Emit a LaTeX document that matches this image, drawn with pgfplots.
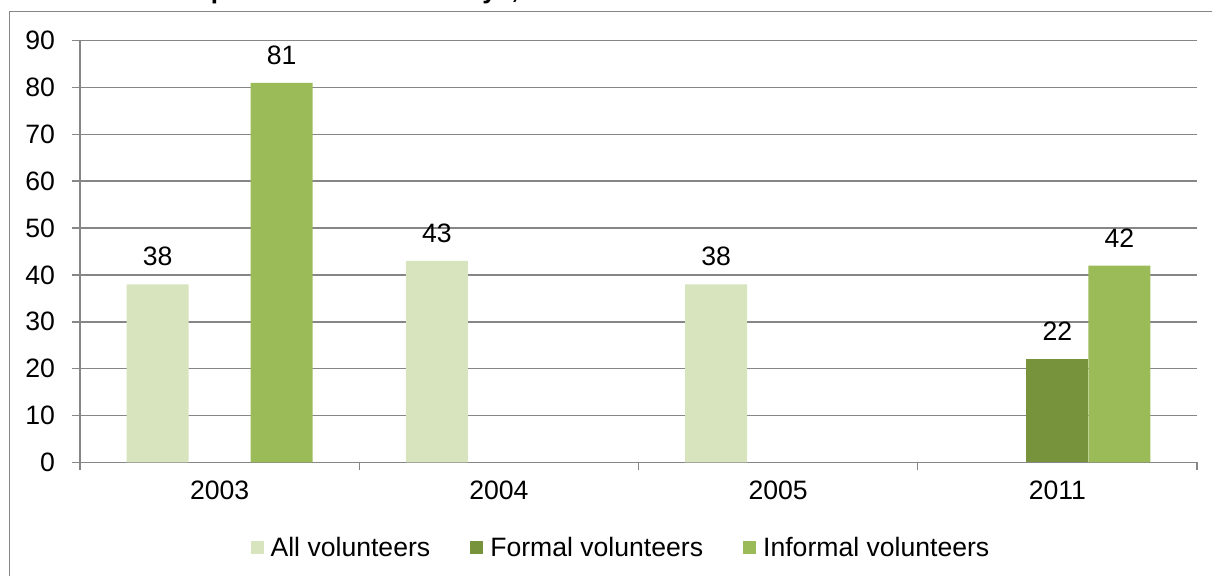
\documentclass[border=0pt]{standalone}
\usepackage{fontspec}
\setmainfont{Liberation Sans}
\usepackage{pgfplots}
\pgfplotsset{compat=1.18}

\definecolor{allvol}{HTML}{D7E4BD}
\definecolor{formvol}{HTML}{77933C}
\definecolor{infvol}{HTML}{9BBB59}
\definecolor{axisgray}{HTML}{868686}

\pgfplotsset{
  ybar legend/.style={
    legend image code/.code={\fill[##1] (0pt,-3.25pt) rectangle (6.5pt,3.25pt);}
  }
}

\begin{document}
\begin{tikzpicture}
  \begin{axis}[
      at={(40pt,56.85pt)}, anchor=south west,
      scale only axis,
      width=558.5pt,
      height=210.8pt,
      ybar=0pt,
      bar width=31pt,
      xmin=-0.5, xmax=3.5,
      ymin=0, ymax=90,
      xtick={0,1,2,3},
      xticklabels={2003,2004,2005,2011},
      minor xtick={-0.5,0.5,1.5,2.5,3.5},
      ytick={0,10,...,90},
      axis lines*=left,
      axis line style={axisgray, line width=0.75pt},
      tick align=outside,
      major tick length=4pt,
      minor tick length=4pt,
      major x tick style={draw=none},
      tick style={axisgray, line width=0.75pt},
      ymajorgrids=true,
      grid style={axisgray, line width=0.75pt},
      ticklabel style={font=\fontsize{13.3}{16}\selectfont},
      /pgf/number format/assume math mode=true,
      yticklabel style={xshift=-5pt},
      xticklabel style={yshift=-2pt},
      nodes near coords,
      every node near coord/.append style={font=\fontsize{13.3}{16}\selectfont, inner sep=0pt, anchor=south, yshift=9pt},
      legend columns=3,
      legend style={at={(0.4852,-0.2033)}, anchor=center, draw=none, fill=none,
        font=\fontsize{13.3}{16}\selectfont,
        /tikz/every even column/.append style={column sep=18pt},
        /tikz/every odd column/.append style={column sep=1.5pt}},
      legend cell align=left,
    ]
    \addplot[fill=allvol, draw=none] coordinates {(0,38) (1,43) (2,38)};
    \addplot[fill=formvol, draw=none] coordinates {(3,22)};
    \addplot[fill=infvol, draw=none] coordinates {(0,81) (3,42)};
    \legend{All volunteers, Formal volunteers, Informal volunteers}
  \end{axis}
  \draw[axisgray, line width=0.75pt] (4.8pt,-5pt) -- (4.8pt,282.15pt) -- (620pt,282.15pt);
  \node[anchor=base west, inner sep=0pt, font=\fontsize{13}{15}\selectfont\bfseries] at (0pt,288.5pt)
    {Volunteer Development Scotland surveys, 2003 and 2011};
  \pgfresetboundingbox
  \path (0pt,0pt) rectangle (606pt,288pt);
\end{tikzpicture}
\end{document}
